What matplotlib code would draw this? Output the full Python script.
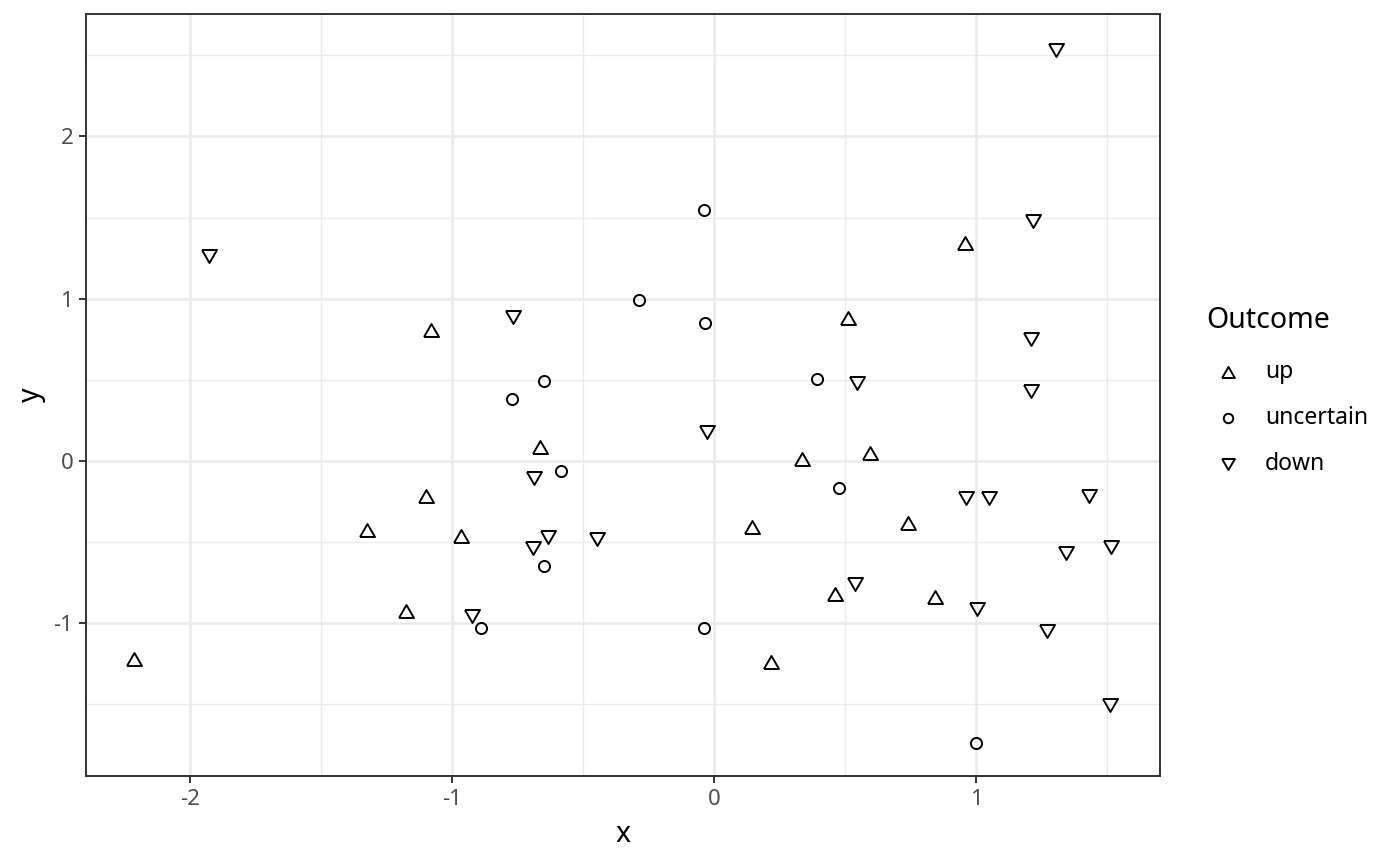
import matplotlib
matplotlib.use("Agg")
import matplotlib.pyplot as plt
from matplotlib.lines import Line2D
import numpy as np

plt.rcParams['font.family'] = ['Noto Sans', 'DejaVu Sans']

up_x = [-2.214, -1.080, -1.099, -1.324, -0.966, -1.176, -0.664, 0.145, 0.336, 0.511, 0.595, 0.740, 0.462, 0.844, 0.218, 0.958]
up_y = [-1.22, 0.807, -0.216, -0.425, -0.462, -0.924, 0.086, -0.407, 0.012, 0.881, 0.049, -0.382, -0.819, -0.838, -1.238, 1.343]

unc_x = [-0.038, -0.286, -0.034, -0.649, -0.771, -0.584, -0.649, -0.889, -0.038, 0.393, 0.477, 1.000]
unc_y = [1.547, 0.992, 0.850, 0.493, 0.382, -0.062, -0.647, -1.029, -1.029, 0.505, -0.166, -1.738]

down_x = [1.305, -1.927, 1.218, -0.767, 1.210, 1.210, 0.546, -0.027, -0.687, -0.691, -0.634, -0.447, -0.924,
          0.962, 1.050, 1.431, 1.344, 1.515, 0.538, 1.004, 1.271, 1.511]
down_y = [2.532, 1.263, 1.479, 0.887, 0.752, 0.431, 0.481, 0.179, -0.105, -0.536, -0.468, -0.481, -0.955,
          -0.228, -0.228, -0.216, -0.567, -0.530, -0.758, -0.912, -1.047, -1.503]

labels = ["up", "uncertain", "down"]

# equilateral open triangles (like ggplot shapes 2 and 6)
tri_up = [(-1, -0.866), (1, -0.866), (0, 0.866), (-1, -0.866)]
tri_dn = [(-1, 0.866), (1, 0.866), (0, -0.866), (-1, 0.866)]
markers = [tri_up, "o", tri_dn]
sizes = [10.8, 8.0, 10.8]

W, H = 1400, 866
fig = plt.figure(figsize=(W/100, H/100), dpi=100)
ax = fig.add_axes([86/W, 1-776/H, (1160-86)/W, (776-14)/H])

ax.set_xlim(-2.397, 1.702)
ax.set_ylim(-1.941, 2.754)

ax.set_xticks([-2, -1, 0, 1])
ax.set_xticks([-1.5, -0.5, 0.5, 1.5], minor=True)
ax.set_yticks([-1, 0, 1, 2])
ax.set_yticks([-1.5, -0.5, 0.5, 1.5, 2.5], minor=True)
ax.set_xticklabels(["-2", "-1", "0", "1"])
ax.set_yticklabels(["-1", "0", "1", "2"])

ax.grid(which='major', color='#EBEBEB', linewidth=1.9)
ax.grid(which='minor', color='#EBEBEB', linewidth=1.0)
ax.set_axisbelow(True)
for s in ax.spines.values():
    s.set_color('#333333')
    s.set_linewidth(1.4)

ax.tick_params(which='major', length=5.2, width=1.4, color='#333333', labelcolor='#4D4D4D', labelsize=16, pad=4)
ax.tick_params(which='minor', length=0)

for xs, ys, m, ms in zip([up_x, unc_x, down_x], [up_y, unc_y, down_y], markers, sizes):
    ax.plot(xs, ys, linestyle='none', marker=m, ms=ms, mfc='none', mec='black', mew=1.4)

ax.set_xlabel("x", fontsize=20.5, labelpad=7)
ax.set_ylabel("y", fontsize=20.5, labelpad=5)

# legend (manual placement)
fig.text(1206/W, 1-320/H, "Outcome", fontsize=20.5, ha='left', va='center')
rows_y = [372, 418, 464]
for m, ms, lab, ry in zip(markers, sizes, labels, rows_y):
    fig.add_artist(Line2D([1228/W], [1-ry/H], transform=fig.transFigure, linestyle='none', marker=m,
                          ms=ms * 0.85, mfc='none', mec='black', mew=1.4))
    fig.text(1265/W, 1-ry/H, lab, fontsize=16.5, ha='left', va='center')

fig.savefig("out.png", dpi=100)
